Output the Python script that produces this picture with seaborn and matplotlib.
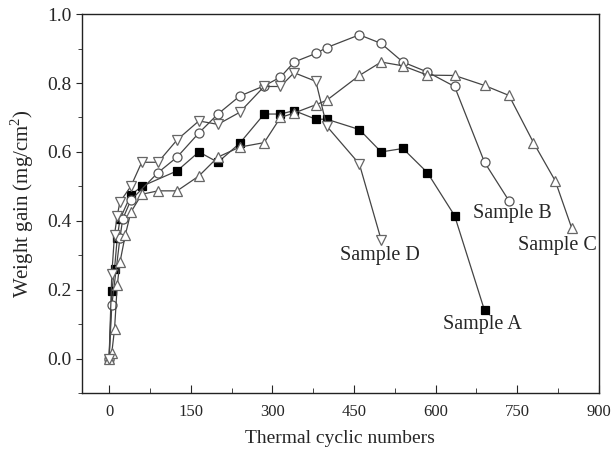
import pandas as pd
import numpy as np
import seaborn as sns
import matplotlib.pyplot as plt
from matplotlib.ticker import MultipleLocator

# Values
a_x = [0, 5, 10, 15, 20, 40, 60, 125, 165, 200, 240, 285, 315, 340, 380, 400, 460, 500, 540, 585, 635, 690]
a_y = [0, 0.195, 0.26, 0.35, 0.405, 0.475, 0.50, 0.545, 0.60, 0.57, 0.625, 0.71, 0.71, 0.72, 0.695, 0.695,
       0.665, 0.60, 0.61, 0.54, 0.415, 0.14]

b_x = [0, 5, 20, 25, 40, 90, 125, 165, 200, 240, 285, 315, 340, 380, 400, 460, 500, 540, 585, 635, 690, 735]
b_y = [0, 0.155, 0.35, 0.405, 0.46, 0.54, 0.585, 0.655, 0.71, 0.762, 0.792, 0.817, 0.861, 0.886, 0.903,
       0.94, 0.915, 0.861, 0.832, 0.79, 0.57, 0.458]

c_x = [0, 5, 10, 15, 20, 30, 40, 60, 90, 125, 165, 200, 240, 285, 315, 340, 380, 400, 460, 500, 540,
       585, 635, 690, 735, 780, 820, 850]
c_y = [0, 0.017, 0.085, 0.213, 0.28, 0.36, 0.425, 0.477, 0.487, 0.487, 0.53, 0.585, 0.614, 0.627, 0.70,
       0.713, 0.737, 0.75, 0.822, 0.861, 0.85, 0.823, 0.822, 0.793, 0.764, 0.627, 0.516, 0.38]

d_x = [0, 5, 10, 15, 20, 40, 60, 90, 125, 165, 200, 240, 285, 315, 340, 380, 400, 460, 500]
d_y = [0, 0.245, 0.36, 0.415, 0.455, 0.50, 0.57, 0.57, 0.635, 0.69, 0.68, 0.715, 0.79, 0.79, 0.83,
       0.805, 0.675, 0.565, 0.345]

samples = ["Sample A", "Sample B", "Sample C", "Sample D"]
label_pos = [(686, 0.098), (742, 0.42), (824, 0.328), (498, 0.298)]

df = pd.concat([
    pd.DataFrame({"cycles": a_x, "gain": a_y, "sample": "Sample A"}),
    pd.DataFrame({"cycles": b_x, "gain": b_y, "sample": "Sample B"}),
    pd.DataFrame({"cycles": c_x, "gain": c_y, "sample": "Sample C"}),
    pd.DataFrame({"cycles": d_x, "gain": d_y, "sample": "Sample D"}),
])

sns.set_style("ticks")
plt.rcParams["font.family"] = ["Liberation Serif", "DejaVu Serif"]
plt.rcParams["mathtext.fontset"] = "custom"
plt.rcParams["mathtext.rm"] = "Liberation Serif"

styles = {
    "Sample A": dict(marker="s", mfc="black", mec="black", ms=5.5),
    "Sample B": dict(marker="o", mfc="white", mec="#555555", ms=6.5),
    "Sample C": dict(marker="^", mfc="white", mec="#666666", ms=7),
    "Sample D": dict(marker="v", mfc="white", mec="#666666", ms=7),
}

fig = plt.figure(figsize=(6.11, 4.57), dpi=100)
ax = fig.add_axes([0.134, 0.140, 0.846, 0.829])

for s in samples:
    st = styles[s]
    sns.lineplot(data=df[df["sample"] == s], x="cycles", y="gain", ax=ax, sort=False,
                 estimator=None, color="#444444", linewidth=0.9, marker=st["marker"],
                 markersize=st["ms"], markerfacecolor=st["mfc"], markeredgecolor=st["mec"],
                 markeredgewidth=0.9, legend=False)

for s, (x, y) in zip(samples, label_pos):
    ax.text(x, y, s, ha="center", va="center", fontsize=14.5)

ax.set_xlim(-50, 900)
ax.set_ylim(-0.1, 1.0)
ax.xaxis.set_major_locator(MultipleLocator(150))
ax.xaxis.set_minor_locator(MultipleLocator(75))
ax.yaxis.set_major_locator(MultipleLocator(0.2))
ax.yaxis.set_minor_locator(MultipleLocator(0.1))
ax.yaxis.set_major_formatter(plt.FormatStrFormatter("%.1f"))
ax.tick_params(axis="x", which="both", direction="in", labelsize=12, pad=8)
ax.tick_params(axis="x", which="major", length=6)
ax.tick_params(axis="x", which="minor", length=3.5)
ax.tick_params(axis="y", which="both", direction="out", labelsize=14)
ax.tick_params(axis="y", which="major", length=4)
ax.tick_params(axis="y", which="minor", length=3)
for sp in ax.spines.values():
    sp.set_visible(True)
    sp.set_linewidth(1.0)
    sp.set_color("#222222")

ax.set_xlabel("Thermal cyclic numbers", fontsize=14, labelpad=7)
ax.set_ylabel("Weight gain (mg/cm$^2$)", fontsize=15, labelpad=8)

plt.savefig("out.png", dpi=100)
